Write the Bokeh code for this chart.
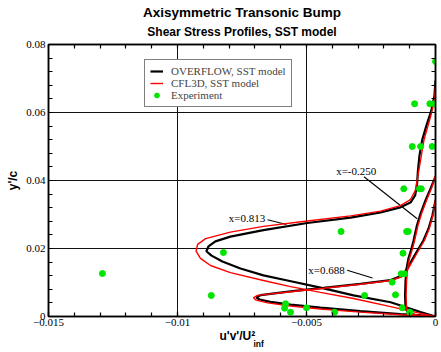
from bokeh.plotting import figure
from bokeh.models import (Label, Legend, LegendItem, FixedTicker, LinearAxis, Range1d, Grid, Title)
from bokeh.embed import file_html
from bokeh.resources import INLINE

# ---------------- data ----------------
x_ticks = [-0.015, -0.01, -0.005, 0.0]
x_minor = [-0.015, -0.014, -0.013, -0.012, -0.011, -0.010, -0.009, -0.008, -0.007,
           -0.006, -0.005, -0.004, -0.003, -0.002, -0.001, 0.0]
y_ticks = [0.0, 0.02, 0.04, 0.06, 0.08]
y_minor = [0.0, 0.004, 0.008, 0.012, 0.016, 0.020, 0.024, 0.028, 0.032, 0.036, 0.040,
           0.044, 0.048, 0.052, 0.056, 0.060, 0.064, 0.068, 0.072, 0.076, 0.080]

# x = -0.250 profile
ovf_m250_x = [0, -0.00058, -0.00105, -0.00116, -0.00118, -0.00116, -0.00112, -0.00105,
              -0.00093, -0.00085, -0.00072, -0.00058, -0.00039, -0.00019, 0]
ovf_m250_y = [0, 0.00015, 0.00088, 0.00235, 0.00618, 0.01059, 0.01412, 0.01706, 0.02000,
              0.02235, 0.02676, 0.03029, 0.03412, 0.03765, 0.04118]
cfl_m250_x = [0, -0.00055, -0.00101, -0.00112, -0.00114, -0.00112, -0.00108, -0.00101,
              -0.00089, -0.00081, -0.00068, -0.00054, -0.00035, -0.00016, 0]
cfl_m250_y = [0, 0.00015, 0.00088, 0.00235, 0.00618, 0.01059, 0.01412, 0.01706, 0.02000,
              0.02235, 0.02676, 0.03029, 0.03412, 0.03765, 0.04150]

# x = 0.688 profile
ovf_688_x = [0, -0.00039, -0.00136, -0.00291, -0.00446, -0.00562, -0.00640, -0.00682, -0.00694,
             -0.00678, -0.00562, -0.00434, -0.00291, -0.00174, -0.00136, -0.00120, -0.00097,
             -0.00070, -0.00047, -0.00027, -0.00012, 0]
ovf_688_y = [0, 0.0003, 0.0007, 0.0016, 0.0026, 0.0035, 0.0043, 0.0050, 0.0056, 0.0063, 0.0074,
             0.0084, 0.0096, 0.0107, 0.0118, 0.01294, 0.01588, 0.01941, 0.02235, 0.02588,
             0.02971, 0.03412]
cfl_688_x = [0, -0.00039, -0.00136, -0.00291, -0.00446, -0.00562, -0.00650, -0.00695, -0.00706,
             -0.00690, -0.00562, -0.00434, -0.00291, -0.00174, -0.00130, -0.00114, -0.00092,
             -0.00066, -0.00043, -0.00024, -0.00010, 0]
cfl_688_y = [0, 0.0002, 0.0005, 0.0013, 0.0022, 0.0031, 0.0040, 0.0048, 0.0055, 0.0062, 0.0073,
             0.0083, 0.0095, 0.0106, 0.0117, 0.01294, 0.01588, 0.01941, 0.02235, 0.02588,
             0.02971, 0.03450]

# x = 0.813 profile
ovf_813_x = [0, -0.00058, -0.00174, -0.00318, -0.00446, -0.00574, -0.00667, -0.00756, -0.00826,
             -0.00868, -0.00888, -0.00880, -0.00853, -0.00795, -0.00667, -0.00497, -0.00329,
             -0.00213, -0.00136, -0.00097, -0.00079, -0.00072, -0.00068, -0.00062, -0.00052,
             -0.00035, -0.00016, -0.00004, 0]
ovf_813_y = [0, 0.0013, 0.0042, 0.0062, 0.0085, 0.0106, 0.0121, 0.0141, 0.0162, 0.0179, 0.0192,
             0.0206, 0.0221, 0.0235, 0.0254, 0.0275, 0.0291, 0.0306, 0.0321, 0.0335, 0.0356,
             0.0385, 0.0429, 0.0474, 0.0518, 0.0562, 0.0606, 0.0650, 0.0694]
cfl_813_x = [0, -0.00058, -0.00174, -0.00318, -0.00446, -0.00562, -0.00667, -0.00795, -0.00872,
             -0.00911, -0.00928, -0.00922, -0.00891, -0.00795, -0.00667, -0.00497, -0.00329,
             -0.00213, -0.00136, -0.00097, -0.00078, -0.00070, -0.00058, -0.00045, -0.00019,
             -0.00004, 0]
cfl_813_y = [0, 0.0009, 0.0029, 0.0053, 0.0071, 0.0088, 0.0106, 0.0129, 0.0150, 0.0171, 0.0192,
             0.0212, 0.0229, 0.0248, 0.0265, 0.0281, 0.0296, 0.0310, 0.0326, 0.0344, 0.0371,
             0.0406, 0.0459, 0.0518, 0.0588, 0.0635, 0.0679]

# experiment
exp_x = [-0.01291, -0.00869, -0.00822, -0.00581, -0.00585, -0.00562, -0.00500, -0.00391,
         -0.00366, -0.00275, -0.00168, -0.00155, -0.00129, -0.00100, -0.00133, -0.00120,
         -0.00126, -0.00112, -0.00106, -0.00123, -0.00062, -0.00055, -0.00090, -0.00058,
         -0.00013, -0.00081, -0.00022, -0.00004, 0.0]
exp_y = [0.01265, 0.00618, 0.01882, 0.00374, 0.00244, 0.00126, 0.00256, 0.00126,
         0.02500, 0.00618, 0.01009, 0.00638, 0.00256, 0.00126, 0.01256, 0.01256,
         0.01862, 0.02500, 0.02500, 0.03756, 0.03756, 0.03756, 0.05000, 0.05000,
         0.05000, 0.06256, 0.06256, 0.06256, 0.0750]

# station labels and their leader lines
station_text = ["x=-0.250", "x=0.813", "x=0.688"]
station_lx = [-0.003074, -0.007306, -0.004225]
station_ly = [0.04294, 0.02897, 0.01362]
leader_x0 = [-0.002771, -0.006512, -0.003423]
leader_y0 = [0.04109, 0.02844, 0.01362]
leader_x1 = [-0.000709, -0.005775, -0.002442]
leader_y1 = [0.02874, 0.02706, 0.01132]

SERIF = "Liberation Serif"
SANS = "Liberation Sans"

p = figure(width=441, height=352, x_range=Range1d(-0.015, 0.0), y_range=Range1d(0.0, 0.08),
           output_backend="svg", toolbar_location=None,
           min_border_left=48, min_border_right=6, min_border_top=44, min_border_bottom=36,
           x_axis_type=None, y_axis_type=None, background_fill_color="white",
           border_fill_color="white", title=None)
p.outline_line_color = "black"
p.outline_line_width = 1.5


def style_axis(ax):
    ax.axis_line_color = "black"
    ax.axis_line_width = 1.5
    ax.major_tick_in = 5
    ax.major_tick_out = 0
    ax.minor_tick_in = 4
    ax.minor_tick_out = 0
    ax.major_tick_line_color = "black"
    ax.minor_tick_line_color = "black"
    ax.major_tick_line_width = 1.2
    ax.minor_tick_line_width = 1.2
    ax.major_label_text_font = SERIF
    ax.major_label_text_font_size = "11px"
    ax.major_label_text_color = "black"
    ax.major_label_standoff = 3
    ax.axis_label_text_font = SANS
    ax.axis_label_text_font_style = "bold"
    ax.axis_label_text_font_size = "12px"
    ax.axis_label_text_color = "black"


xb = LinearAxis(ticker=FixedTicker(ticks=x_ticks, minor_ticks=x_minor))
style_axis(xb)
xb.major_label_standoff = 2
p.add_layout(xb, "below")
yl = LinearAxis(ticker=FixedTicker(ticks=y_ticks, minor_ticks=y_minor), axis_label="y'/c")
style_axis(yl)
yl.axis_label_standoff = 3
p.add_layout(yl, "left")
xt = LinearAxis(ticker=FixedTicker(ticks=[], minor_ticks=x_minor))
style_axis(xt)
p.add_layout(xt, "above")
yr = LinearAxis(ticker=FixedTicker(ticks=[], minor_ticks=y_minor))
style_axis(yr)
p.add_layout(yr, "right")

p.add_layout(Grid(dimension=0, ticker=FixedTicker(ticks=x_ticks), grid_line_color="#111111",
                  grid_line_width=1))
p.add_layout(Grid(dimension=1, ticker=FixedTicker(ticks=y_ticks), grid_line_color="#111111",
                  grid_line_width=1))

# titles (sub-title first: it sits closest to the frame)
p.add_layout(Title(text="Shear Stress Profiles, SST model", text_font=SANS,
                   text_font_style="bold", text_font_size="12px", align="center",
                   vertical_align="middle", standoff=9, text_color="black"), "above")
p.add_layout(Title(text="Axisymmetric Transonic Bump", text_font=SANS,
                   text_font_style="bold", text_font_size="13.5px", align="center",
                   vertical_align="bottom", standoff=0, text_color="black"), "above")
# x axis title with sub/superscript
p.add_layout(Title(text="u'v'/U\u00b2", text_font=SANS, text_font_style="bold",
                   text_font_size="12px", align="left", offset=171,
                   vertical_align="top", standoff=0, text_color="black"), "below")
p.add_layout(Title(text="inf", text_font=SANS, text_font_style="bold",
                   text_font_size="8.5px", align="left", offset=205,
                   vertical_align="top", standoff=-11, text_color="black"), "below")

# leader lines
p.segment(leader_x0, leader_y0, leader_x1, leader_y1, line_color="black", line_width=1.1)

# model profiles
ovf_r = None
for xs, ys in [(ovf_m250_x, ovf_m250_y), (ovf_688_x, ovf_688_y), (ovf_813_x, ovf_813_y)]:
    r = p.line(xs, ys, line_color="black", line_width=2.2)
    ovf_r = ovf_r or r
cfl_r = None
for xs, ys in [(cfl_m250_x, cfl_m250_y), (cfl_688_x, cfl_688_y), (cfl_813_x, cfl_813_y)]:
    r = p.line(xs, ys, line_color="#ff0000", line_width=1.4)
    cfl_r = cfl_r or r

exp_r = p.scatter(exp_x, exp_y, marker="circle", size=6, fill_color="#00e600",
                  line_color="#00e600")

for t, lx, ly in zip(station_text, station_lx, station_ly):
    p.add_layout(Label(x=lx, y=ly, text=t, text_font=SERIF, text_font_size="11px",
                       text_align="center", text_baseline="middle", text_color="black"))

legend = Legend(items=[LegendItem(label="OVERFLOW, SST model", renderers=[ovf_r]),
                       LegendItem(label="CFL3D, SST model", renderers=[cfl_r]),
                       LegendItem(label="Experiment", renderers=[exp_r])],
                location=(96, 209), margin=0, padding=5, spacing=0,
                label_height=12, glyph_height=12, glyph_width=13, label_standoff=8,
                label_text_font=SERIF, label_text_font_size="11px",
                border_line_color="black", border_line_width=1.2,
                background_fill_color="white", background_fill_alpha=1.0)
p.add_layout(legend, "center")

open("out.html", "w").write(file_html(p, INLINE))
